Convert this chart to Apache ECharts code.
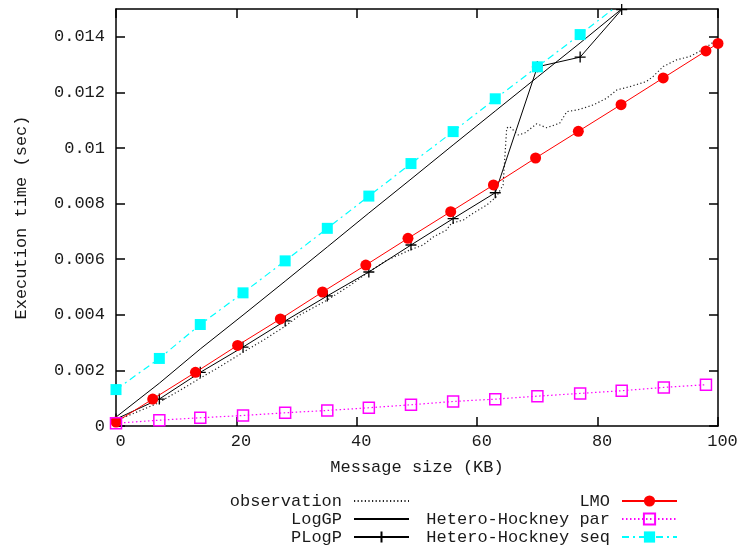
<!DOCTYPE html>
<html>
<head>
<meta charset="utf-8">
<script src="https://cdn.jsdelivr.net/npm/echarts@6/dist/echarts.min.js"></script>
<style>
  html, body { margin: 0; padding: 0; background: #fff; }
  #chart { width: 741px; height: 548px; }
</style>
</head>
<body>
<div id="chart"></div>
<script>
// message sizes (KB)
const hhX = [0, 7.2, 14.0, 21.1, 28.1, 35.1, 42.0, 49.0, 56.0, 63.0, 70.0, 77.1, 84.0, 91.0, 98.0];
const lmoX = [0, 6.1, 13.2, 20.2, 27.3, 34.3, 41.5, 48.5, 55.6, 62.7, 69.7, 76.8, 83.9, 90.9, 98.0, 100];
const obsX = [0, 2.9, 6.8, 10.6, 13.9, 17.3, 21.1, 24.7, 28.1, 30.6, 35.0, 38.9, 41.6, 45.0, 48.8,
  51.0, 52.7, 54.9, 55.7, 57.7, 59.3, 61.6, 63.2, 64.3, 64.9, 65.4, 66.8, 67.9, 69.9, 71.5,
  73.7, 74.9, 76.7, 79.3, 81.5, 83.2, 85.4, 88.1, 89.2, 90.9, 93.1, 95.3, 96.9, 98.6, 99.8];

// execution time (sec)
const obsY = [0.00020, 0.00045, 0.00081, 0.00128, 0.00171, 0.00214, 0.00265, 0.00312, 0.00359, 0.00400,
  0.00452, 0.00506, 0.00549, 0.00596, 0.00633, 0.00651, 0.00680, 0.00705, 0.00729, 0.00741,
  0.00765, 0.00795, 0.00825, 0.00867, 0.01072, 0.01077, 0.01047, 0.01054, 0.01087, 0.01073,
  0.01089, 0.01131, 0.01137, 0.01155, 0.01179, 0.01209, 0.01221, 0.01239, 0.01257, 0.01293,
  0.01317, 0.01329, 0.01347, 0.01371, 0.01389];
const loggpY = [0.00032, 0.00154, 0.00277, 0.00399, 0.00521, 0.00644, 0.00766, 0.00888, 0.01011,
  0.01133, 0.01255, 0.01378, 0.01500];
const plogpY = [0.00025, 0.00097, 0.00193, 0.00284, 0.00378, 0.00468, 0.00554, 0.00651, 0.00746,
  0.00839, 0.01292, 0.01327, 0.01498];
const lmoY = [0.00014, 0.00097, 0.00193, 0.00290, 0.00385, 0.00482, 0.00579, 0.00675, 0.00771,
  0.00867, 0.00964, 0.01060, 0.01156, 0.01252, 0.01349, 0.01376];
const parY = [0.000101, 0.000209, 0.000296, 0.000378, 0.000476, 0.000559, 0.000656, 0.000764,
  0.000883, 0.000966, 0.001074, 0.001171, 0.001269, 0.001388, 0.001485];
const seqY = [0.00131, 0.00243, 0.00365, 0.00479, 0.00594, 0.00711, 0.00827, 0.00944, 0.01059,
  0.01177, 0.01292, 0.01408, 0.01524];

const xTicks = [0, 20, 40, 60, 80, 100];
const yTicks = [0, 0.002, 0.004, 0.006, 0.008, 0.01, 0.012, 0.014];

const pairs = (xs, ys) => ys.map((y, i) => [xs[i], y]);

const font = "'Liberation Mono', 'DejaVu Sans Mono', monospace";
const ink = '#000';
const txt = '#1a1a1a';
const frame = { show: true, onZero: false, lineStyle: { color: ink, width: 1.5 } };
const inTicks = { show: true, inside: true, length: 9, lineStyle: { color: ink, width: 1.5 } };

const chart = echarts.init(document.getElementById('chart'));

chart.setOption({
  animation: false,
  backgroundColor: '#fff',
  textStyle: { fontFamily: font, color: txt },
  grid: { left: 116, top: 9, width: 602, height: 417 },
  legend: [
    {
      data: ['observation', 'LogGP', 'PLogP'],
      orient: 'vertical', align: 'right', right: 331, top: 492, padding: 0,
      itemWidth: 55, itemHeight: 14, itemGap: 0,
      textStyle: { fontFamily: font, fontSize: 17, color: txt, lineHeight: 18, padding: [0, 7, 0, 0] }
    },
    {
      data: ['LMO', 'Hetero-Hockney par', 'Hetero-Hockney seq'],
      orient: 'vertical', align: 'right', right: 63, top: 492, padding: 0,
      itemWidth: 55, itemHeight: 14, itemGap: 0,
      textStyle: { fontFamily: font, fontSize: 17, color: txt, lineHeight: 18, padding: [0, 7, 0, 0] }
    }
  ],
  xAxis: [
    {
      type: 'value', min: 0, max: 100, interval: 20, position: 'bottom',
      name: 'Message size (KB)', nameLocation: 'middle', nameGap: 33,
      nameTextStyle: { fontFamily: font, fontSize: 17, color: txt },
      axisLine: frame,
      axisTick: Object.assign({ customValues: xTicks }, inTicks),
      axisLabel: { customValues: xTicks, fontFamily: font, fontSize: 17, color: txt, margin: 7, padding: [0, 0, 0, 9] },
      splitLine: { show: false }
    },
    {
      type: 'value', min: 0, max: 100, interval: 20, position: 'top',
      axisLine: frame,
      axisTick: Object.assign({ customValues: xTicks }, inTicks),
      axisLabel: { show: false },
      splitLine: { show: false }
    }
  ],
  yAxis: [
    {
      type: 'value', min: 0, max: 0.015, interval: 0.002, position: 'left',
      name: 'Execution time (sec)', nameLocation: 'middle', nameGap: 86,
      nameTextStyle: { fontFamily: font, fontSize: 17, color: txt },
      axisLine: frame,
      axisTick: Object.assign({ customValues: yTicks }, inTicks),
      axisLabel: {
        customValues: yTicks, fontFamily: font, fontSize: 17, color: txt, margin: 11,
        formatter: v => String(+v.toFixed(3))
      },
      splitLine: { show: false }
    },
    {
      type: 'value', min: 0, max: 0.015, interval: 0.002, position: 'right',
      axisLine: frame,
      axisTick: Object.assign({ customValues: yTicks }, inTicks),
      axisLabel: { show: false },
      splitLine: { show: false }
    }
  ],
  series: [
    {
      name: 'observation', type: 'line', data: pairs(obsX, obsY),
      symbol: 'circle', showSymbol: false, itemStyle: { color: '#222', opacity: 0 },
      lineStyle: { color: '#222', width: 1.2, type: [1.2, 2.4] }, z: 2
    },
    {
      name: 'LogGP', type: 'line', data: pairs(hhX, loggpY),
      symbol: 'circle', showSymbol: false, itemStyle: { color: ink, opacity: 0 },
      lineStyle: { color: ink, width: 1 }, z: 2
    },
    {
      name: 'PLogP', type: 'line', data: pairs(hhX, plogpY),
      symbol: 'path://M0,5L10,5M5,0L5,10', symbolSize: 11,
      itemStyle: { color: ink, borderColor: ink, borderWidth: 1.3 },
      lineStyle: { color: ink, width: 1 }, z: 3
    },
    {
      name: 'LMO', type: 'line', data: pairs(lmoX, lmoY),
      symbol: 'circle', symbolSize: 11,
      itemStyle: { color: '#ff0000' },
      lineStyle: { color: '#ff0000', width: 1 }, z: 4
    },
    {
      name: 'Hetero-Hockney par', type: 'line', data: pairs(hhX, parY),
      symbol: 'rect', symbolSize: 11,
      itemStyle: { color: 'rgba(255,255,255,0)', borderColor: '#ff00ff', borderWidth: 1.5 },
      lineStyle: { color: '#ff00ff', width: 1.2, type: [1.5, 2.5] }, z: 4
    },
    {
      name: 'Hetero-Hockney seq', type: 'line', data: pairs(hhX, seqY),
      symbol: 'rect', symbolSize: 11,
      itemStyle: { color: '#00ffff' },
      lineStyle: { color: '#00ffff', width: 1.2, type: [7, 4, 2, 4] }, z: 4
    }
  ]
});
</script>
</body>
</html>
